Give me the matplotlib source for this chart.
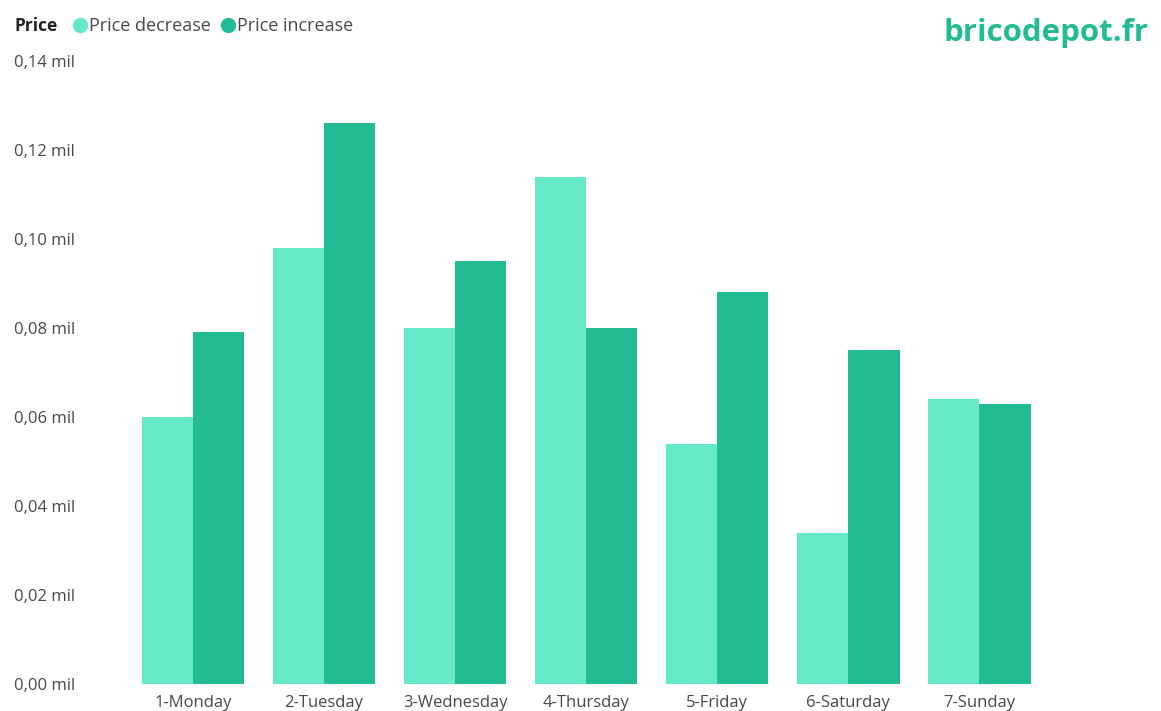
import matplotlib
matplotlib.use("Agg")
import matplotlib.pyplot as plt
import numpy as np
from matplotlib.lines import Line2D

plt.rcParams['font.family'] = ['Open Sans', 'DejaVu Sans']

categories = ["1-Monday", "2-Tuesday", "3-Wednesday", "4-Thursday", "5-Friday", "6-Saturday", "7-Sunday"]
price_decrease = [0.060, 0.098, 0.080, 0.114, 0.054, 0.034, 0.064]
price_increase = [0.079, 0.126, 0.095, 0.080, 0.088, 0.075, 0.063]
yticks = [0.00, 0.02, 0.04, 0.06, 0.08, 0.10, 0.12, 0.14]
ytick_labels = ["0,00 mil", "0,02 mil", "0,04 mil", "0,06 mil", "0,08 mil", "0,10 mil", "0,12 mil", "0,14 mil"]

c_dec = "#66E9C9"
c_inc = "#22BB93"
txt = "#4A4947"

fig = plt.figure(figsize=(11.61, 7.11), dpi=100)
ax = fig.add_axes([127.5/1161, 1-684/711, (1045-127.5)/1161, (684-61)/711])

x = np.arange(len(categories))
w = 0.39
ax.bar(x - w/2, price_decrease, width=w, color=c_dec, linewidth=0)
ax.bar(x + w/2, price_increase, width=w, color=c_inc, linewidth=0)

ax.set_xlim(-0.5, len(categories) - 0.5)
ax.set_ylim(0, 0.14)
ax.set_yticks(yticks)
ax.set_yticklabels(ytick_labels)
ax.set_xticks(x)
ax.set_xticklabels(categories)
for s in ax.spines.values():
    s.set_visible(False)
ax.tick_params(axis='both', length=0, colors=txt, labelsize=12)
ax.tick_params(axis='y', pad=82)
for lab in ax.get_yticklabels():
    lab.set_horizontalalignment('left')
ax.tick_params(axis='x', pad=8)

fig.text(14/1161, 1-26/711, "Price", fontsize=12.5, fontweight='bold', color="#252423", va='center', ha='left')
handles = [Line2D([], [], marker='o', linestyle='', markersize=10, color=c_dec),
           Line2D([], [], marker='o', linestyle='', markersize=10, color=c_inc)]
leg = fig.legend(handles, ["Price decrease", "Price increase"], loc='center left',
                 bbox_to_anchor=(69/1161, 1-26/711), ncol=2, frameon=False,
                 handletextpad=-0.1, columnspacing=0.35, handlelength=1.2, fontsize=13,
                 borderaxespad=0, borderpad=0)
for t in leg.get_texts():
    t.set_color(txt)

fig.text(1149/1161, 1-33/711, "bricodepot.fr", fontsize=22.5, fontweight='bold', color=c_inc, va='center', ha='right')

fig.savefig("out.png", dpi=100)
